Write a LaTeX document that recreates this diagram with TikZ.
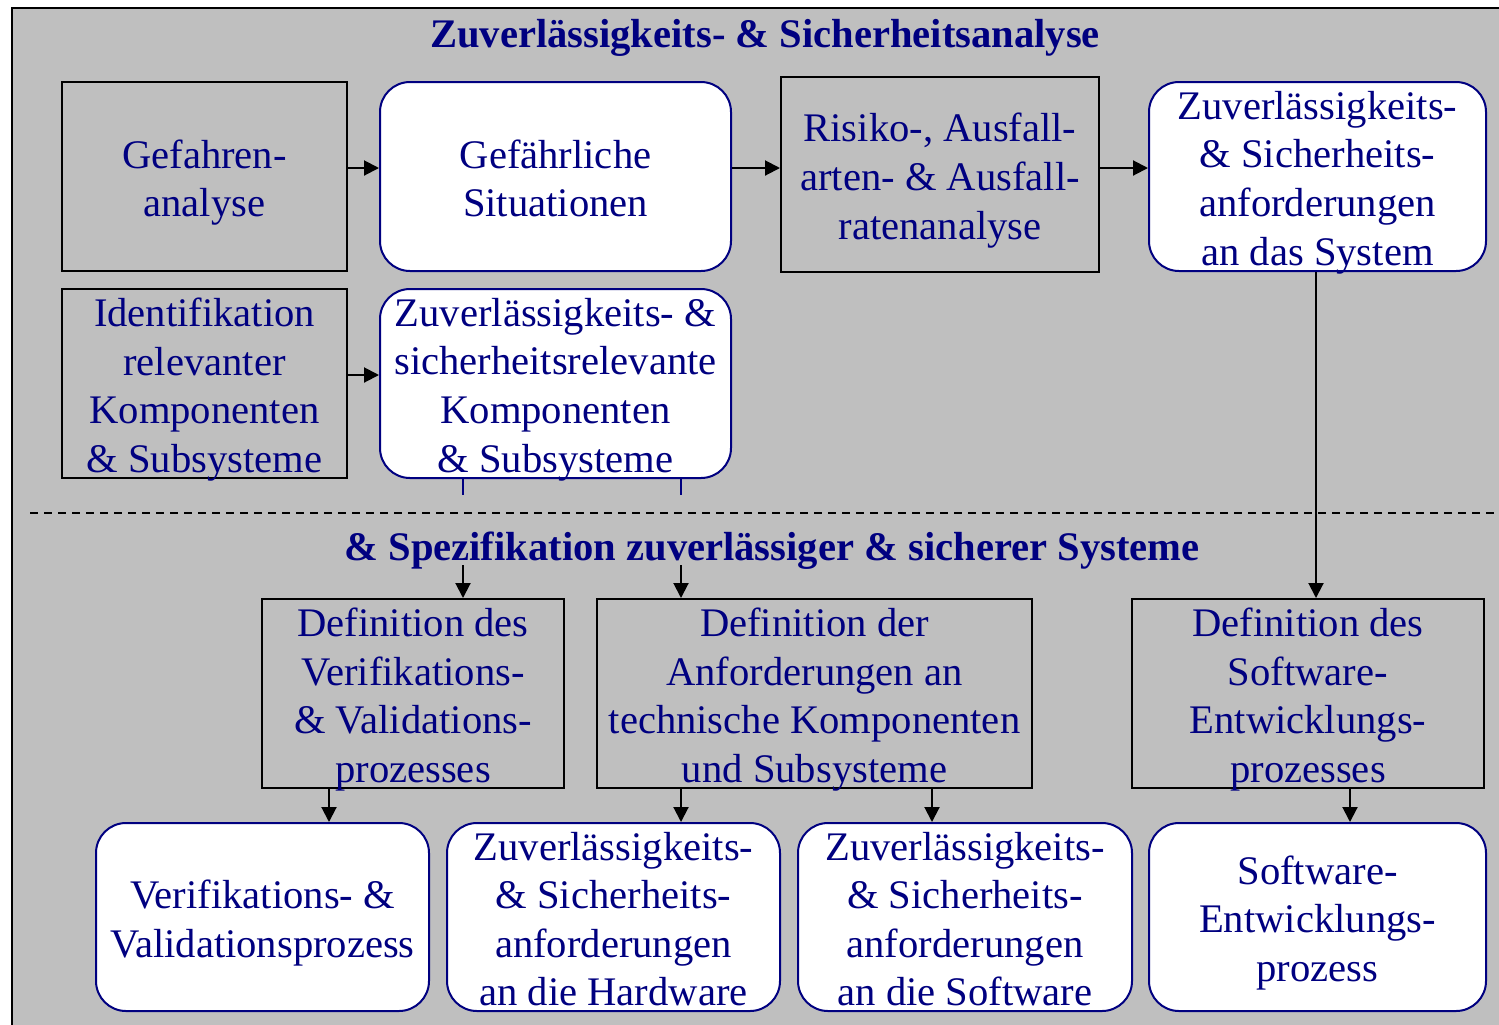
\documentclass[tikz,border=0pt]{standalone}
\usepackage{fontspec}
\setmainfont{Liberation Serif}
\usetikzlibrary{arrows.meta}
\definecolor{bggray}{RGB}{191,191,191}
\definecolor{navyblue}{RGB}{0,0,128}
\begin{document}
\begin{tikzpicture}[x=0.5pt,y=-0.5pt,
  every node/.style={font=\fontsize{20.3pt}{24.3pt}\selectfont, text=navyblue, align=center, inner sep=0pt},
  sqbox/.style={draw=black, line width=1pt, fill=bggray, minimum height=94.5pt},
  rbox/.style={draw=navyblue, line width=1pt, fill=white, rounded corners=15pt, minimum height=94.5pt},
  txt/.style={label={[yshift=-3pt]center:{#1}}},
  txtb/.style={label={[yshift=-1pt]center:{#1}}},
  arr/.style={draw=black, line width=1pt, -{Triangle[length=7.5pt,width=7.5pt]}},
  ttl/.style={font=\bfseries\fontsize{20.3pt}{24pt}\selectfont, anchor=base}]
\useasboundingbox (0,0) rectangle (1499,1024);
\fill[white] (0,0) rectangle (1499,1024);
\draw[line width=1pt, fill=bggray] (12,8) rectangle (1530,1040);

% upper part
\node[sqbox, minimum width=142.5pt, txt={Gefahren-\\analyse}] (gef) at (204.5,176.5) {};
\node[rbox, minimum width=175.5pt, txtb={Gefährliche\\Situationen}] (sit) at (555.5,176.5) {};
\node[sqbox, minimum width=159pt, minimum height=97.5pt, txt={Risiko-, Ausfall-\\arten- \& Ausfall-\\ratenanalyse}] (risk) at (940,174.5) {};
\node[rbox, minimum width=168.5pt, txt={Zuverlässigkeits-\\\& Sicherheits-\\anforderungen\\an das System}] (req) at (1317.5,176.5) {};
\node[sqbox, minimum width=142.5pt, txt={Identifikation\\relevanter\\Komponenten\\\& Subsysteme}] (ident) at (204.5,383.5) {};
\node[rbox, minimum width=175.5pt, txt={Zuverlässigkeits- \&\\sicherheitsrelevante\\Komponenten\\\& Subsysteme}] (komp) at (555.5,383.5) {};

% middle row
\node[sqbox, minimum width=151pt, txt={Definition des\\Verifikations-\\\& Validations-\\prozesses}] (defvv) at (413,693.5) {};
\node[sqbox, minimum width=217.5pt, txt={Definition der\\Anforderungen an\\technische Komponenten\\und Subsysteme}] (defanf) at (814.5,693.5) {};
\node[sqbox, minimum width=176pt, txt={Definition des\\Software-\\Entwicklungs-\\prozesses}] (defsw) at (1308,693.5) {};

% bottom row
\node[rbox, minimum width=166.5pt, minimum height=94pt, txt={Verifikations- \&\\Validationsprozess}] (vv) at (262.5,917) {};
\node[rbox, minimum width=166.5pt, minimum height=94pt, txtb={Zuverlässigkeits-\\\& Sicherheits-\\anforderungen\\an die Hardware}] (hw) at (613.5,917) {};
\node[rbox, minimum width=167pt, minimum height=94pt, txtb={Zuverlässigkeits-\\\& Sicherheits-\\anforderungen\\an die Software}] (sw) at (965,917) {};
\node[rbox, minimum width=168.5pt, minimum height=94pt, txt={Software-\\Entwicklungs-\\prozess}] (swp) at (1317.5,917) {};

% connectors
\draw[arr] (gef.east |- 0,168) -- (sit.west |- 0,168);
\draw[arr] (sit.east |- 0,168) -- (risk.west |- 0,168);
\draw[arr] (risk.east |- 0,168) -- (req.west |- 0,168);
\draw[arr] (ident.east |- 0,375) -- (komp.west |- 0,375);
\draw[arr] (1316,0 |- req.south) -- (1316,0 |- defsw.north);
\draw[arr] (463,0 |- komp.south) -- (463,0 |- defvv.north);
\draw[arr] (681,0 |- komp.south) -- (681,0 |- defanf.north);
\draw[arr] (329,0 |- defvv.south) -- (329,0 |- vv.north);
\draw[arr] (681,0 |- defanf.south) -- (681,0 |- hw.north);
\draw[arr] (932,0 |- defanf.south) -- (932,0 |- sw.north);
\draw[arr] (1350,0 |- defsw.south) -- (1350,0 |- swp.north);

% cover behind second title, stubs, dashed divider
\fill[bggray] (345,495) rectangle (1200,565);
\draw[navyblue, line width=1pt] (463,0 |- komp.south) -- (463,495);
\draw[navyblue, line width=1pt] (681,0 |- komp.south) -- (681,495);
\draw[line width=0.8pt, dash pattern=on 4pt off 3pt] (30,513) -- (1499,513);

% titles
\node[ttl] (t1) at (765,47) {Zuverlässigkeits- \& Sicherheitsanalyse};
\node[ttl] (t2) at (772,560) {\& Spezifikation zuverlässiger \& sicherer Systeme};
\end{tikzpicture}
\end{document}
